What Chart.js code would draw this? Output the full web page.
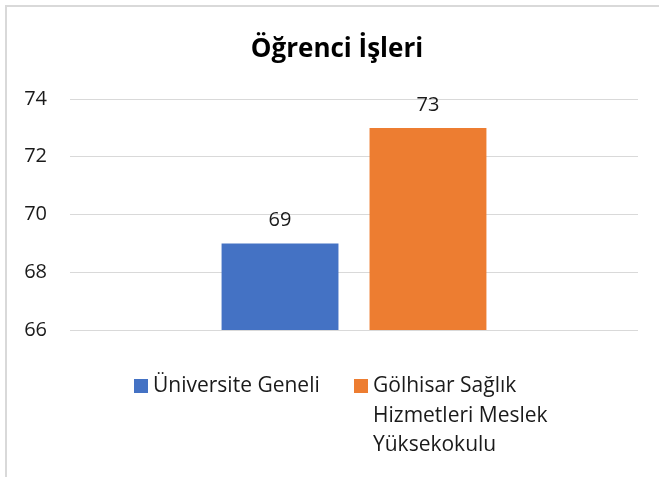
<!DOCTYPE html>
<html>
<head>
<meta charset="utf-8">
<script src="https://cdn.jsdelivr.net/npm/chart.js@4.4.0/dist/chart.umd.min.js"></script>
<style>
  html, body { margin: 0; padding: 0; background: #fff; }
  #wrap { position: relative; width: 659px; height: 477px; overflow: hidden; font-family: "Open Sans", sans-serif; }
  #frame { position: absolute; left: 5px; top: 5px; width: 700px; height: 500px; border-left: 2px solid #d9d9d9; border-top: 2px solid #d9d9d9; box-sizing: border-box; pointer-events: none; }
  #title { position: absolute; left: 0; top: 31px; width: 674px; text-align: center; font-weight: 700; font-size: 26px; color: #000; line-height: 32px; }
  canvas { position: absolute; left: 0; top: 0; }
  .lg { position: absolute; font-size: 21px; color: #1a1a1a; line-height: 29.5px; white-space: nowrap; }
  .sw { position: absolute; width: 14px; height: 14px; }
</style>
</head>
<body>
<div id="wrap">
  <canvas id="c" width="659" height="477"></canvas>
  <div id="frame"></div>
  <div id="title"></div>
  <div id="legend"></div>
</div>
<script>
const chartTitle = "Öğrenci İşleri";
const categories = [""];
const seriesNames = ["Üniversite Geneli", "Gölhisar Sağlık Hizmetleri Meslek Yüksekokulu"];
const seriesNameLines = [["Üniversite Geneli"], ["Gölhisar Sağlık", "Hizmetleri Meslek", "Yüksekokulu"]];
const seriesValues = [[69], [73]];
const seriesColors = ["#4472C4", "#ED7D31"];
const yTicks = [66, 68, 70, 72, 74];

document.getElementById("title").textContent = chartTitle;

const valueLabels = {
  id: "valueLabels",
  afterDatasetsDraw(chart) {
    const ctx = chart.ctx;
    ctx.save();
    ctx.font = "20px 'Open Sans', sans-serif";
    ctx.fillStyle = "#1a1a1a";
    ctx.textAlign = "center";
    ctx.textBaseline = "alphabetic";
    chart.data.datasets.forEach((ds, i) => {
      chart.getDatasetMeta(i).data.forEach((bar, j) => {
        ctx.fillText(String(ds.data[j]), bar.x, bar.y - 17);
      });
    });
    ctx.restore();
  }
};

const chart = new Chart(document.getElementById("c"), {
  type: "bar",
  data: {
    labels: categories,
    datasets: seriesNames.map((n, i) => ({
      label: n,
      data: seriesValues[i],
      backgroundColor: seriesColors[i],
      categoryPercentage: 0.521,
      barPercentage: 0.79
    }))
  },
  options: {
    responsive: false,
    animation: false,
    layout: { padding: { left: 0, right: 21, top: 99, bottom: 147 } },
    plugins: { legend: { display: false }, title: { display: false }, tooltip: { enabled: false } },
    scales: {
      x: { display: false },
      y: {
        min: yTicks[0],
        max: yTicks[yTicks.length - 1],
        afterBuildTicks(scale) { scale.ticks = yTicks.map(v => ({ value: v })); },
        afterFit(scale) { scale.width = 70; },
        border: { display: false },
        grid: { color: "#d9d9d9", lineWidth: 1, drawTicks: false },
        ticks: { padding: 23, color: "#1a1a1a", font: { family: "'Open Sans', sans-serif", size: 20 } }
      }
    }
  },
  plugins: [valueLabels]
});

// HTML legend built from the series
const legend = document.getElementById("legend");
const legendX = [134, 354];
seriesNameLines.forEach((lines, i) => {
  const sw = document.createElement("div");
  sw.className = "sw";
  sw.style.left = legendX[i] + "px";
  sw.style.top = "379px";
  sw.style.background = seriesColors[i];
  legend.appendChild(sw);
  const t = document.createElement("div");
  t.className = "lg";
  t.style.left = (legendX[i] + 19) + "px";
  t.style.top = "370px";
  t.innerHTML = lines.join("<br>");
  legend.appendChild(t);
});
</script>
</body>
</html>
